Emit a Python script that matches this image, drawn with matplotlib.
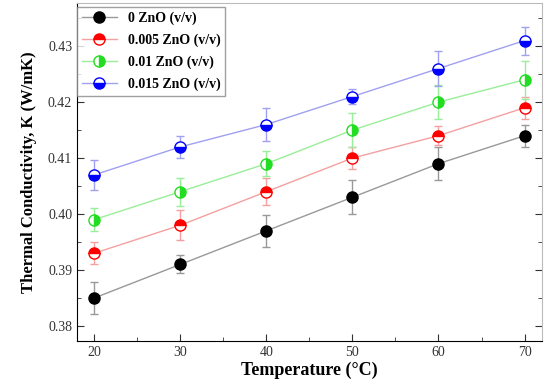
import matplotlib as mpl

mpl.use("Agg")
import matplotlib.pyplot as plt
from matplotlib.lines import Line2D
from matplotlib.ticker import FormatStrFormatter, MultipleLocator

# Data
temperature = [20, 30, 40, 50, 60, 70]

k_0 = [0.385, 0.391, 0.397, 0.403, 0.409, 0.414]
k_0005 = [0.393, 0.398, 0.404, 0.410, 0.414, 0.419]
k_001 = [0.399, 0.404, 0.409, 0.415, 0.420, 0.424]
k_0015 = [0.407, 0.412, 0.416, 0.421, 0.426, 0.431]

err_0 = [0.0029, 0.0016, 0.0028, 0.0030, 0.0030, 0.0020]
err_0005 = [0.0020, 0.0027, 0.0024, 0.0020, 0.0017, 0.0020]
err_001 = [0.0020, 0.0025, 0.0022, 0.0030, 0.0030, 0.0034]
err_0015 = [0.0027, 0.0020, 0.0030, 0.0014, 0.0032, 0.0025]

labels = ["0 ZnO (v/v)", "0.005 ZnO (v/v)", "0.01 ZnO (v/v)", "0.015 ZnO (v/v)"]

plt.rcParams["font.family"] = ["Liberation Serif", "DejaVu Serif"]

fig = plt.figure(figsize=(5.5, 3.85), dpi=100)
ax = fig.add_axes([0.14, 0.114, 0.845, 0.878])

series = [
    (k_0, err_0, "black", "#999999", "full"),
    (k_0005, err_0005, "red", "#f4a0a0", "top"),
    (k_001, err_001, "#22dd22", "#99ee99", "right"),
    (k_0015, err_0015, "blue", "#a0a0f0", "bottom"),
]

handles = []
for (vals, errs, col, light, fill), lab in zip(series, labels):
    style = dict(color=light, lw=1.0, marker="o", markersize=8, fillstyle=fill,
                 markerfacecolor=col, markerfacecoloralt="white",
                 markeredgecolor=col, markeredgewidth=1.0)
    ax.errorbar(temperature, vals, yerr=errs, ecolor=light, elinewidth=1.0,
                capsize=3, capthick=1.0, **style)
    handles.append(Line2D([], [], label=lab, **style))

ax.set_xlim(18, 72)
ax.set_ylim(0.3773, 0.4377)
ax.xaxis.set_major_locator(MultipleLocator(10))
ax.xaxis.set_minor_locator(MultipleLocator(5))
ax.yaxis.set_major_locator(MultipleLocator(0.01))
ax.yaxis.set_minor_locator(MultipleLocator(0.005))
ax.yaxis.set_major_formatter(FormatStrFormatter("%.2f"))

ax.tick_params(axis="both", which="both", direction="in", labelsize=10,
               colors="#333333", right=True)
ax.tick_params(which="major", length=5)
ax.tick_params(which="minor", length=3)
for side in ("right", "top"):
    ax.spines[side].set_color("#bbbbbb")

ax.set_xlabel("Temperature (°C)", fontsize=13, fontweight="bold", labelpad=2)
ax.set_ylabel("Thermal Conductivity, K (W/mK)", fontsize=12,
              fontweight="bold", labelpad=8)

leg = ax.legend(handles=handles, loc="upper left", bbox_to_anchor=(0.0, 0.988),
                prop={"weight": "bold", "size": 10}, frameon=True,
                fancybox=False, edgecolor="#888888", borderpad=0.35,
                handlelength=2.5, labelspacing=0.6, borderaxespad=0)
leg.get_frame().set_linewidth(1.0)

fig.savefig("out.png", dpi=100)
